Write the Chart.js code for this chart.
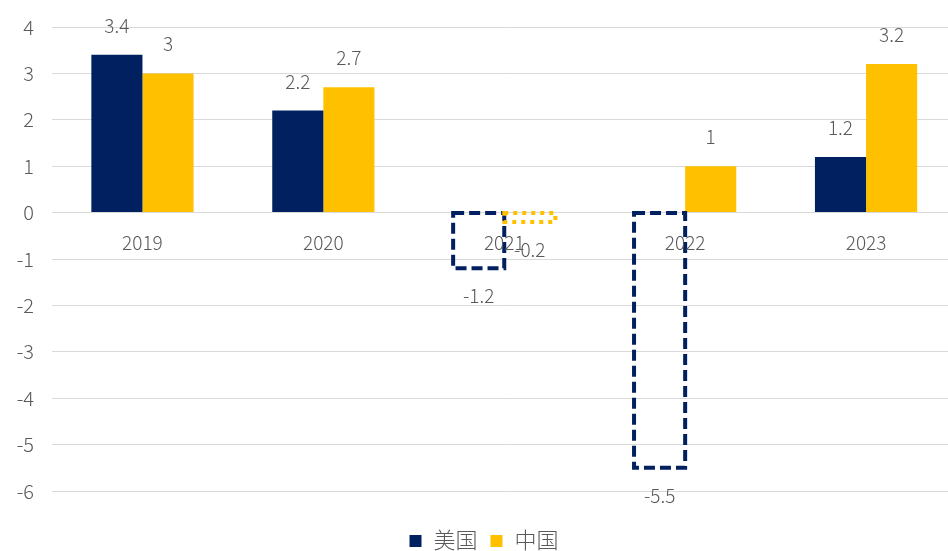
<!DOCTYPE html>
<html>
<head>
<meta charset="utf-8">
<script src="https://cdn.jsdelivr.net/npm/chart.js@4.4.1/dist/chart.umd.min.js"></script>
<style>
  html, body { margin: 0; padding: 0; overflow: hidden; background: #fff; }
  #wrap { width: 958px; height: 551px; }
</style>
</head>
<body>
<div id="wrap"><canvas id="chart"></canvas></div>
<script>
    const years = ['2019', '2020', '2021', '2022', '2023'];
    const usValues = [3.4, 2.2, -1.2, -5.5, 1.2];
    const cnValues = [3, 2.7, -0.2, 1, 3.2];
    const yMin = -6;
    const yMax = 4;

    const NAVY = '#002060';
    const GOLD = '#FFC000';
    const TEXT = '#595959';
    const FONT = '"Noto Sans CJK SC", "Noto Sans", sans-serif';

    // negative bars are drawn as dashed / dotted outlines only
    const negativeOutline = {
      id: 'negativeOutline',
      afterDatasetsDraw(chart) {
        const ctx = chart.ctx;
        chart.data.datasets.forEach((ds, i) => {
          const meta = chart.getDatasetMeta(i);
          meta.data.forEach((bar, j) => {
            if (ds.data[j] >= 0) return;
            ctx.save();
            ctx.strokeStyle = ds.outlineColor;
            ctx.lineWidth = ds.outlineWidth;
            ctx.setLineDash(ds.outlineDash);
            ctx.strokeRect(bar.x - bar.width / 2, bar.base, bar.width, bar.y - bar.base);
            ctx.restore();
          });
        });
      }
    };

    // year labels sit right under the zero line, value labels outside bar ends
    const labelsPlugin = {
      id: 'labelsPlugin',
      afterDatasetsDraw(chart) {
        const ctx = chart.ctx;
        const xScale = chart.scales.x;
        const zeroY = chart.scales.y.getPixelForValue(0);
        ctx.save();
        ctx.fillStyle = TEXT;
        ctx.textAlign = 'center';
        ctx.textBaseline = 'alphabetic';
        ctx.font = '300 19px ' + FONT;
        years.forEach((y, i) => {
          ctx.fillText(y, xScale.getPixelForValue(i), zeroY + 37);
        });
        chart.data.datasets.forEach((ds, i) => {
          chart.getDatasetMeta(i).data.forEach((bar, j) => {
            const v = ds.data[j];
            const ty = v >= 0 ? bar.y - 22 : bar.y + 35;
            ctx.fillText(String(v), bar.x, ty);
          });
        });
        ctx.restore();
      }
    };

    // simple bottom legend: square marker + name, centred under the plot
    const bottomLegend = {
      id: 'bottomLegend',
      afterDraw(chart) {
        const ctx = chart.ctx;
        const box = 12, gap = 12, itemGap = 13;
        ctx.save();
        ctx.font = '300 22px ' + FONT;
        ctx.textBaseline = 'middle';
        ctx.textAlign = 'left';
        const items = chart.data.datasets.map(ds => ({ text: ds.label, color: ds.outlineColor, w: ctx.measureText(ds.label).width }));
        const total = items.reduce((s, it) => s + box + gap + it.w, 0) + itemGap * (items.length - 1);
        let x = 484 - total / 2;
        const cy = 540;
        items.forEach(it => {
          ctx.fillStyle = it.color;
          ctx.fillRect(x, cy - box / 2 + 1, box, box);
          x += box + gap;
          ctx.fillStyle = TEXT;
          ctx.fillText(it.text, x, cy);
          x += it.w + itemGap;
        });
        ctx.restore();
      }
    };

    const ctx = document.getElementById('chart').getContext('2d');
    new Chart(ctx, {
      type: 'bar',
      data: {
        labels: years,
        datasets: [
          {
            label: '美国',
            data: usValues,
            backgroundColor: c => (c.raw < 0 ? 'rgba(0,0,0,0)' : NAVY),
            borderWidth: 0,
            outlineColor: NAVY,
            outlineWidth: 4,
            outlineDash: [11, 5]
          },
          {
            label: '中国',
            data: cnValues,
            backgroundColor: c => (c.raw < 0 ? 'rgba(0,0,0,0)' : GOLD),
            borderWidth: 0,
            outlineColor: GOLD,
            outlineWidth: 4,
            outlineDash: [4, 5]
          }
        ]
      },
      options: {
        responsive: true,
        maintainAspectRatio: false,
        animation: false,
        events: [],
        layout: { padding: { top: 27, left: 14, right: 1.5, bottom: 0 } },
        datasets: { bar: { categoryPercentage: 0.565, barPercentage: 1 } },
        plugins: {
          tooltip: { enabled: false },
          legend: { display: false }
        },
        scales: {
          x: {
            ticks: { display: false },
            grid: { display: false },
            border: { display: false },
            afterFit: s => { s.height = 60; }
          },
          y: {
            min: yMin,
            max: yMax,
            ticks: {
              stepSize: 1,
              padding: 18,
              color: TEXT,
              font: { size: 20, family: FONT, weight: '300' }
            },
            grid: { color: '#d9d9d9', drawTicks: false },
            border: { display: false },
            afterFit: s => {
              s.width = 38;
              s.paddingTop = 0;
              s.paddingBottom = 0;
            }
          }
        }
      },
      plugins: [negativeOutline, labelsPlugin, bottomLegend]
    });
</script>
</body>
</html>
